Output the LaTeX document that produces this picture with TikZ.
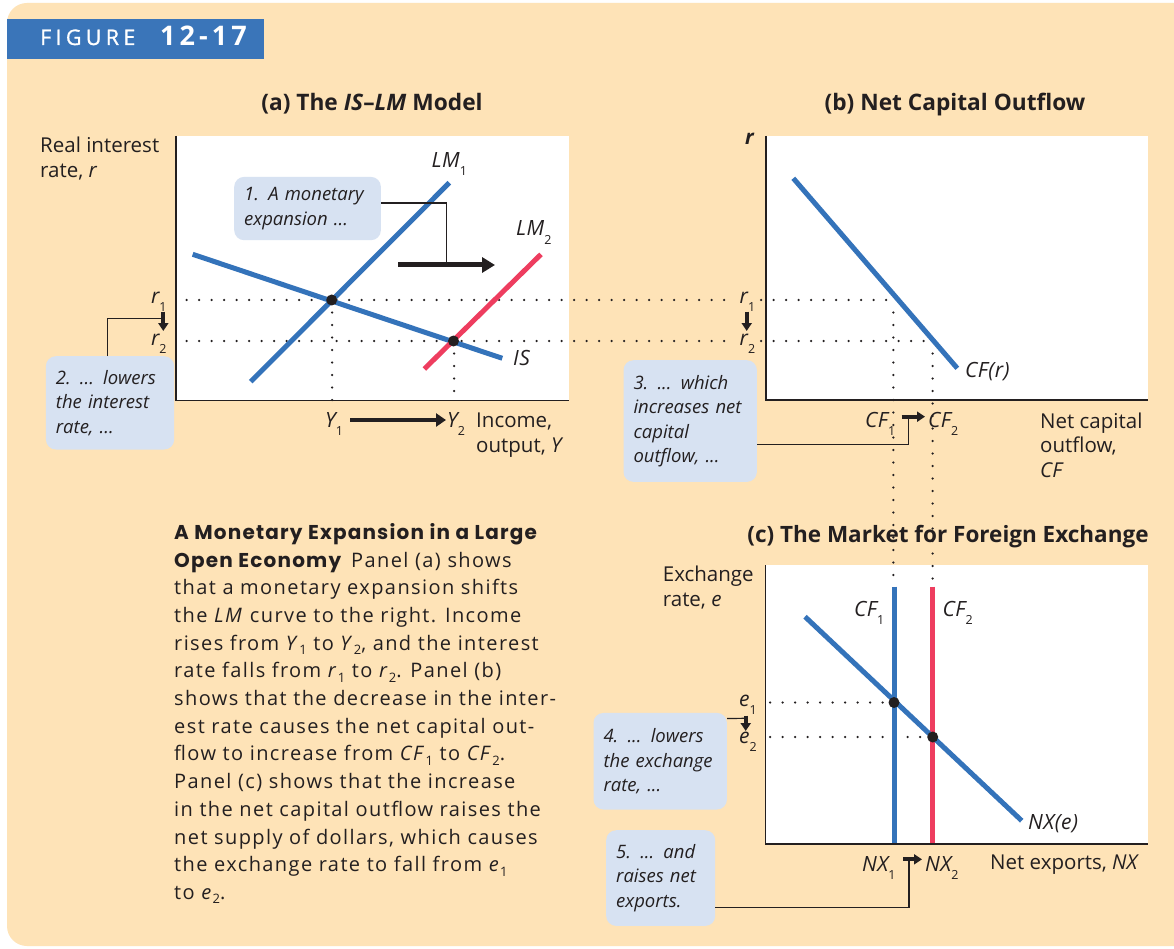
\documentclass[tikz,border=0pt]{standalone}
\usepackage{fontspec}
\setmainfont{Open Sans}
\newfontfamily\headfont{Poppins}[LetterSpace=6]
\usetikzlibrary{arrows.meta}
\definecolor{bg}{HTML}{FEE3B7}
\definecolor{figblue}{HTML}{3A75B9}
\definecolor{lineblue}{HTML}{3473BA}
\definecolor{linered}{HTML}{EE3D5F}
\definecolor{callfill}{HTML}{D7E2F2}
\definecolor{ink}{HTML}{231F20}
\newcommand\setfs[2]{\fontsize{#1}{#2}\selectfont}
\newcommand\lsub[1]{\raisebox{-0.4em}{\setfs{12.5}{12.5}\upshape #1}}
\newcommand\csub[1]{\raisebox{-0.22em}{\setfs{13}{13}\upshape #1}}
\tikzset{
  axis/.style={draw=ink, line width=1.5pt},
  curveblue/.style={draw=lineblue, line width=5pt},
  curvered/.style={draw=linered, line width=5pt},
  dotline/.style={draw=ink, line width=2.5pt, line cap=round, dash pattern=on 0pt off 12.5pt},
  conn/.style={draw=ink, line width=1.2pt},
  bigarrow/.style={draw=ink, line width=5pt, -{Triangle[length=13pt,width=15pt]}},
  smallarrow/.style={draw=ink, line width=3.8pt, -{Triangle[length=8pt,width=10pt]}},
  callout/.style={fill=callfill, rounded corners=10pt, anchor=north west, inner xsep=10pt, inner ysep=0pt, align=left, font=\setfs{18.5}{24.5}\itshape, text=ink},
  lab/.style={anchor=base west, inner sep=0pt, text=ink, font=\setfs{21}{24}\itshape\addfontfeature{LetterSpace=2}},
  axlab/.style={anchor=base west, inner sep=0pt, text=ink, align=left, font=\setfs{20.5}{25}},
  ptitle/.style={anchor=base, inner sep=0pt, text=ink, font=\setfs{22.7}{26}\bfseries},
  pt/.style={circle, fill=ink, inner sep=0pt, minimum size=11pt},
}
\begin{document}
\begin{tikzpicture}[x=1pt,y=-1pt]
\useasboundingbox (0,0) rectangle (1174,949);
\fill[white] (0,0) rectangle (1174,949);
\fill[bg, rounded corners=20pt] (7,3) rectangle (1200,946);
% figure tag
\node[fill=figblue, anchor=north west, minimum width=257pt, minimum height=40pt, inner sep=0pt] (figbox) at (7,19) {};
\node[anchor=base west, inner sep=0pt, text=white, font=\setfs{21.5}{21}\addfontfeature{LetterSpace=20,FakeBold=1}] (figword) at (40,45) {FIGURE};
\node[anchor=base west, inner sep=0pt, text=white, font=\setfs{27}{27}\bfseries\addfontfeature{LetterSpace=15}] (fignum) at (160,45.7) {12-17};
% panel titles
\node[ptitle] (ta) at (372,111) {(a) The \textit{IS}--\textit{LM} Model};
\node[ptitle] (tb) at (955,111) {(b) Net Capital Outflow};
\node[ptitle, font=\setfs{22.5}{26}\bfseries] (tc) at (948,542) {(c) The Market for Foreign Exchange};
% plot areas
\fill[white] (176,136) rectangle (569,400.5);
\fill[white] (766,136) rectangle (1147.5,400);
\fill[white] (765.7,565) rectangle (1147.7,844);
% key coordinates
\coordinate (is0) at (192.7,254.3);
\coordinate (is1) at (502.3,358.3);
\coordinate (lma0) at (250.7,381.7);
\coordinate (lma1) at (449.3,182.7);
\coordinate (lmb0) at (424.3,369);
\coordinate (lmb1) at (541,254.3);
\coordinate (cf0) at (793.3,178.3);
\coordinate (cf1) at (957.3,368.3);
\coordinate (nx0) at (805,616.7);
\coordinate (nx1) at (1021.7,820.7);
\coordinate (E1) at (331.7,300);
\coordinate (E2) at (453.5,341);
\coordinate (F1) at (894,702.5);
\coordinate (F2) at (932.7,737);
% dotted guides
\draw[dotline] (186.7,300) -- (733,300);
\draw[dotline] (761,300) -- (893.3,300);
\draw[dotline] (186.7,341) -- (733,341);
\draw[dotline] (761,341) -- (932,341);
\draw[dotline] (332,312.5) -- (332,400);
\draw[dotline] (454,353.5) -- (454,400);
\draw[dotline] (893.3,312.5) -- (893.3,586);
\draw[dotline] (932.7,353.5) -- (932.7,586);
\draw[dotline] (770,702.5) -- (894,702.5);
\draw[dotline] (770,737) -- (932.7,737);
% curves
\draw[curveblue] (is0) -- (is1);
\draw[curveblue] (lma0) -- (lma1);
\draw[curvered] (lmb0) -- (lmb1);
\draw[curveblue] (cf0) -- (cf1);
\draw[curveblue] (894,586.7) -- (894,844);
\draw[curvered] (932.7,586.7) -- (932.7,844);
\draw[curveblue] (nx0) -- (nx1);
% equilibrium points
\node[pt] (p1) at (E1) {};
\node[pt] (p2) at (E2) {};
\node[pt] (p3) at (F1) {};
\node[pt] (p4) at (F2) {};
% axes
\draw[axis] (176,136) -- (176,400.5) -- (569,400.5);
\draw[axis] (766,136) -- (766,400) -- (1147.5,400);
\draw[axis] (765.7,565) -- (765.7,844) -- (1147.7,844);
% axis labels (base anchor = last line)
\node[axlab] (yla) at (40,177.5) {Real interest\\rate, \textit{r}};
\node[axlab] (xla) at (476,452) {Income,\\output, \textit{Y}};
\node[axlab, font=\setfs{20.5}{25}\bfseries\itshape] (ylb) at (745,145) {r};
\node[axlab, font=\setfs{20.5}{24.5}] (xlb) at (1040,477) {Net capital\\outflow,\\\textit{CF}};
\node[axlab] (ylc) at (662.7,606.7) {Exchange\\rate, \textit{e}};
\node[axlab] (xlc) at (990,869.5) {Net exports, \textit{NX}};
% curve labels
\node[lab] (llm1) at (431.5,167.5) {LM\lsub{1}};
\node[lab] (llm2) at (516,236) {LM\lsub{2}};
\node[lab] (lis) at (513,365) {IS};
\node[lab] (lcf) at (965,377) {CF(r)};
\node[lab] (lcf1c) at (854,616) {CF\lsub{1}};
\node[lab] (lcf2c) at (942.5,616.5) {CF\lsub{2}};
\node[lab] (lnx) at (1028,829) {NX(e)};
% value labels
\node[lab] (r1a) at (151,303) {r\lsub{1}};
\node[lab] (r2a) at (151,345) {r\lsub{2}};
\node[lab] (y1) at (325,427) {Y\lsub{1}};
\node[lab] (y2) at (447,427) {Y\lsub{2}};
\node[lab] (r1b) at (739.5,303) {r\lsub{1}};
\node[lab] (r2b) at (739.5,345) {r\lsub{2}};
\node[lab] (cf1b) at (865,427) {CF\lsub{1}};
\node[lab] (cf2b) at (928,427) {CF\lsub{2}};
\node[lab] (e1) at (739,706.5) {e\lsub{1}};
\node[lab] (e2) at (739,743) {e\lsub{2}};
\node[lab] (nx1l) at (862,871) {NX\lsub{1}};
\node[lab] (nx2l) at (925,871) {NX\lsub{2}};
% shift arrows
\coordinate (lmA) at (398.3,265);
\coordinate (lmB) at (495,265);
\draw[bigarrow] (lmA) -- (lmB);
\coordinate (yA) at (350,420);
\coordinate (yB) at (446,420);
\draw[bigarrow, line width=4.5pt, -{Triangle[length=10pt,width=13pt]}] (yA) -- (yB);
\coordinate (raA) at (163.3,311.5);
\coordinate (raB) at (163.3,331);
\draw[smallarrow] (raA) -- (raB);
\coordinate (rbA) at (746.7,311.5);
\coordinate (rbB) at (746.7,331);
\draw[smallarrow] (rbA) -- (rbB);
\coordinate (cfA) at (901.5,416.7);
\coordinate (cfB) at (925,416.7);
\draw[smallarrow] (cfA) -- (cfB);
\coordinate (eA) at (745.7,715.5);
\coordinate (eB) at (745.7,731);
\draw[smallarrow] (eA) -- (eB);
\coordinate (nxA) at (903,859.3);
\coordinate (nxB) at (922,859.3);
\draw[smallarrow] (nxA) -- (nxB);
% callouts
\node[callout, text width=126.7pt, minimum height=63.3pt] (c1) at (234,176.7) {\mbox{1. A monetary}\\\mbox{expansion ...}};
\node[callout, text width=108.3pt, minimum height=93.3pt] (c2) at (45.7,356) {\mbox{2. ... lowers}\\\mbox{the interest}\\\mbox{rate, ...}};
\node[callout, text width=113.4pt, minimum height=121.7pt] (c3) at (623.3,360) {\mbox{3. ... which}\\\mbox{increases net}\\\mbox{capital}\\\mbox{outflow, ...}};
\node[callout, text width=113.4pt, minimum height=96.6pt] (c4) at (593.3,712.7) {\mbox{4. ... lowers}\\\mbox{the exchange}\\\mbox{rate, ...}};
\node[callout, text width=89pt, minimum height=95.7pt] (c5) at (606,830) {\mbox{5. ... and}\\\mbox{raises net}\\\mbox{exports.}};
% connectors
\coordinate (k1) at (446.7,265);
\coordinate (k2) at (161,318.3);
\coordinate (k3) at (908.3,418);
\coordinate (k4) at (745.7,718.3);
\coordinate (k5) at (909,860);
\draw[conn] ([yshift=5.6pt]c1.east) -| (k1);
\draw[conn] ([xshift=-2.5pt]c2.north) |- (k2);
\draw[conn] ([yshift=-23.5pt]c3.east) -| (k3);
\draw[conn] ([yshift=42.7pt]c4.east) -- (k4);
\draw[conn] ([yshift=-29.5pt]c5.east) -| (k5);
% caption (base anchor = last line baseline)
\node[anchor=base west, inner sep=0pt, align=left, text=ink, font=\setfs{20}{27.7}\addfontfeature{LetterSpace=7}] (caption) at (174,899.4) {%
{\headfont\setfs{20}{27.7}\bfseries A Monetary Expansion in a Large}\\
{\headfont\setfs{20}{27.7}\bfseries Open Economy}\enspace Panel (a) shows\\
that a monetary expansion shifts\\
the \textit{LM} curve to the right. Income\\
rises from \textit{Y}\csub{1} to \textit{Y}\csub{2}, and the interest\\
rate falls from \textit{r}\csub{1} to \textit{r}\csub{2}. Panel (b)\\
shows that the decrease in the inter-\\
est rate causes the net capital out-\\
flow to increase from \textit{CF}\csub{1} to \textit{CF}\csub{2}.\\
Panel (c) shows that the increase\\
in the net capital outflow raises the\\
net supply of dollars, which causes\\
the exchange rate to fall from \textit{e}\csub{1}\\
to \textit{e}\csub{2}.};
\end{tikzpicture}
\end{document}
